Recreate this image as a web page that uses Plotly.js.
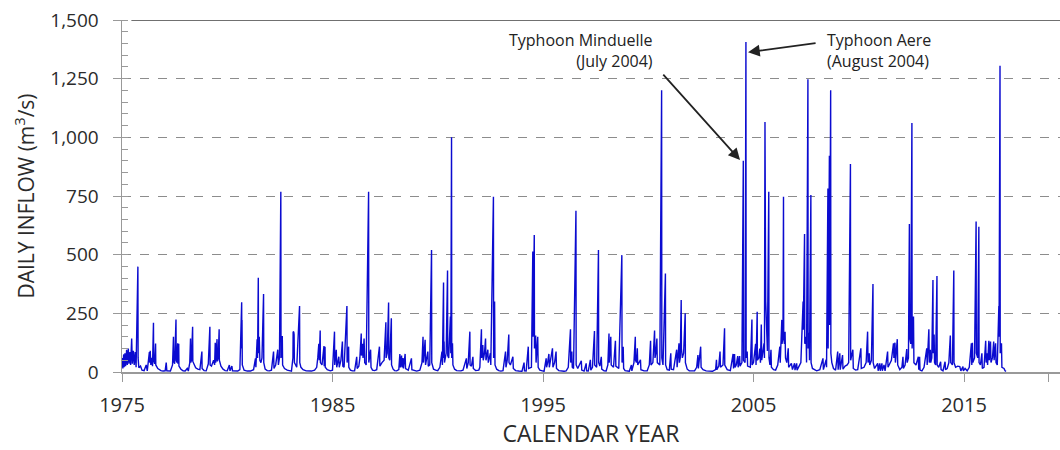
<!DOCTYPE html>
<html>
<head>
<meta charset="utf-8">
<script src="https://cdn.plot.ly/plotly-3.0.1.min.js"></script>
<style>
  html, body { margin: 0; padding: 0; background: #fff; }
  #chart { width: 1060px; height: 450px; }
</style>
</head>
<body>
<div id="chart"></div>
<script>
// Daily inflow: [decimal year, m3/s]
const records1970s = [
  [1975.00, 20],[1975.02, 60],[1975.04, 15],[1975.08, 75],[1975.10, 20],[1975.14, 80],[1975.17, 25],[1975.22, 95],[1975.25, 30],[1975.30, 100],[1975.33, 35],[1975.38, 85],[1975.41, 30],[1975.46, 143],[1975.49, 35],[1975.54, 90],[1975.58, 30],[1975.63, 85],[1975.67, 20],[1975.755, 449],[1975.765, 60],[1975.80, 18],[1975.88, 25],[1975.95, 8],
  [1976.05, 6],[1976.15, 30],[1976.20, 5],[1976.30, 85],[1976.32, 40],[1976.34, 90],[1976.37, 30],[1976.42, 60],[1976.45, 25],[1976.495, 210],[1976.505, 50],[1976.55, 35],[1976.595, 121],[1976.605, 30],[1976.70, 15],[1976.85, 6],[1976.95, 4],
  [1977.05, 5],[1977.10, 40],[1977.13, 5],[1977.30, 4],[1977.40, 30],[1977.445, 150],[1977.455, 45],[1977.50, 35],[1977.565, 224],[1977.575, 50],[1977.61, 40],[1977.645, 122],[1977.655, 35],[1977.695, 120],[1977.705, 25],[1977.80, 12],[1977.90, 5],
  [1978.00, 4],[1978.10, 15],[1978.15, 4],[1978.22, 40],[1978.255, 143],[1978.265, 40],[1978.30, 50],[1978.355, 193],[1978.365, 45],[1978.42, 30],[1978.50, 18],[1978.60, 12],[1978.70, 10],[1978.795, 87],[1978.805, 15],[1978.90, 6],
  [1979.00, 5],[1979.10, 35],[1979.175, 193],[1979.185, 30],[1979.25, 25],[1979.35, 50],[1979.40, 30],[1979.43, 125],[1979.45, 40],[1979.515, 140],[1979.525, 45],[1979.57, 60],[1979.615, 182],[1979.625, 50],[1979.70, 25],[1979.80, 12],[1979.90, 6]
];
const records1980s = [
  [1980.00, 5],[1980.10, 30],[1980.13, 5],[1980.22, 25],[1980.25, 5],[1980.35, 4],[1980.50, 4],[1980.60, 10],[1980.685, 297],[1980.695, 100],[1980.70, 222],[1980.715, 30],[1980.80, 8],[1980.95, 4],
  [1981.10, 4],[1981.25, 10],[1981.34, 58],[1981.36, 20],[1981.42, 139],[1981.44, 60],[1981.475, 402],[1981.485, 80],[1981.52, 150],[1981.55, 50],[1981.60, 40],[1981.65, 60],[1981.725, 332],[1981.735, 40],[1981.80, 12],[1981.90, 6],
  [1982.00, 5],[1982.10, 8],[1982.20, 87],[1982.22, 15],[1982.30, 30],[1982.40, 95],[1982.43, 30],[1982.48, 60],[1982.545, 768],[1982.555, 60],[1982.60, 150],[1982.615, 153],[1982.63, 30],[1982.72, 15],[1982.85, 8],[1982.95, 5],
  [1983.05, 4],[1983.12, 60],[1983.13, 172],[1983.145, 100],[1983.16, 170],[1983.175, 160],[1983.19, 40],[1983.25, 30],[1983.30, 20],[1983.435, 281],[1983.445, 40],[1983.50, 20],[1983.60, 10],[1983.75, 5],[1983.90, 4],
  [1984.00, 4],[1984.15, 8],[1984.25, 20],[1984.30, 60],[1984.35, 120],[1984.37, 50],[1984.415, 177],[1984.425, 40],[1984.50, 30],[1984.595, 111],[1984.605, 25],[1984.645, 108],[1984.655, 20],[1984.75, 10],[1984.90, 5],
  [1985.00, 8],[1985.095, 172],[1985.105, 30],[1985.18, 95],[1985.20, 20],[1985.25, 40],[1985.30, 65],[1985.32, 20],[1985.40, 50],[1985.47, 130],[1985.49, 25],[1985.55, 20],[1985.685, 281],[1985.695, 40],[1985.765, 108],[1985.775, 20],[1985.85, 8],[1985.95, 5],
  [1986.05, 5],[1986.15, 65],[1986.17, 15],[1986.25, 25],[1986.30, 60],[1986.365, 164],[1986.375, 70],[1986.42, 120],[1986.45, 60],[1986.50, 143],[1986.53, 40],[1986.60, 30],[1986.715, 768],[1986.725, 40],[1986.81, 95],[1986.83, 20],[1986.90, 8],
  [1987.00, 6],[1987.10, 10],[1987.23, 108],[1987.25, 25],[1987.35, 40],[1987.45, 50],[1987.535, 212],[1987.545, 60],[1987.60, 80],[1987.665, 296],[1987.675, 60],[1987.72, 50],[1987.795, 229],[1987.805, 30],[1987.88, 12],[1987.95, 6],
  [1988.05, 5],[1988.15, 10],[1988.20, 77],[1988.22, 20],[1988.28, 70],[1988.30, 20],[1988.35, 60],[1988.37, 15],[1988.45, 77],[1988.47, 15],[1988.60, 8],[1988.75, 58],[1988.77, 10],[1988.90, 5],
  [1989.00, 4],[1989.15, 8],[1989.25, 40],[1989.30, 150],[1989.32, 40],[1989.40, 137],[1989.42, 30],[1989.53, 87],[1989.55, 25],[1989.62, 30],[1989.705, 520],[1989.715, 40],[1989.80, 12],[1989.90, 8]
];
const records1990s = [
  [1990.00, 6],[1990.10, 20],[1990.20, 87],[1990.22, 30],[1990.275, 381],[1990.285, 60],[1990.30, 130],[1990.32, 40],[1990.40, 80],[1990.465, 432],[1990.475, 70],[1990.52, 60],[1990.60, 236],[1990.62, 80],[1990.655, 1000],[1990.665, 60],[1990.70, 122],[1990.72, 30],[1990.80, 12],[1990.90, 6],
  [1991.00, 4],[1991.10, 5],[1991.20, 8],[1991.36, 58],[1991.38, 15],[1991.45, 40],[1991.525, 172],[1991.535, 30],[1991.60, 25],[1991.67, 65],[1991.69, 15],[1991.80, 6],[1991.95, 8],
  [1992.00, 20],[1992.075, 182],[1992.085, 60],[1992.14, 115],[1992.16, 50],[1992.22, 80],[1992.27, 143],[1992.29, 50],[1992.38, 95],[1992.40, 40],[1992.45, 60],[1992.50, 80],[1992.52, 30],[1992.645, 747],[1992.655, 60],[1992.70, 300],[1992.72, 30],[1992.80, 12],[1992.90, 6],
  [1993.00, 4],[1993.10, 6],[1993.22, 87],[1993.24, 20],[1993.30, 50],[1993.375, 160],[1993.385, 40],[1993.45, 30],[1993.57, 65],[1993.59, 15],[1993.70, 6],[1993.85, 4],
  [1994.00, 3],[1994.10, 40],[1994.12, 5],[1994.20, 4],[1994.30, 108],[1994.32, 15],[1994.45, 20],[1994.515, 513],[1994.525, 150],[1994.585, 584],[1994.595, 100],[1994.65, 156],[1994.67, 40],[1994.75, 150],[1994.77, 20],[1994.85, 8],[1994.95, 4],
  [1995.05, 3],[1995.15, 58],[1995.17, 20],[1995.22, 40],[1995.28, 77],[1995.30, 20],[1995.38, 60],[1995.45, 101],[1995.47, 20],[1995.55, 40],[1995.62, 87],[1995.64, 15],[1995.75, 6],[1995.90, 4],
  [1996.00, 3],[1996.10, 5],[1996.20, 20],[1996.305, 182],[1996.315, 40],[1996.37, 87],[1996.39, 20],[1996.45, 15],[1996.565, 687],[1996.575, 30],[1996.65, 15],[1996.82, 48],[1996.84, 8],[1996.95, 4],
  [1997.05, 37],[1997.07, 5],[1997.15, 4],[1997.25, 52],[1997.27, 8],[1997.35, 20],[1997.445, 175],[1997.455, 30],[1997.55, 20],[1997.635, 520],[1997.645, 40],[1997.70, 25],[1997.77, 65],[1997.79, 12],[1997.90, 5],
  [1998.00, 4],[1998.08, 30],[1998.135, 164],[1998.145, 40],[1998.22, 150],[1998.24, 30],[1998.35, 20],[1998.44, 133],[1998.46, 25],[1998.60, 15],[1998.745, 498],[1998.755, 40],[1998.81, 108],[1998.83, 15],[1998.90, 6],
  [1999.00, 3],[1999.10, 3],[1999.20, 30],[1999.22, 5],[1999.32, 40],[1999.385, 150],[1999.395, 50],[1999.44, 40],[1999.48, 101],[1999.50, 30],[1999.63, 52],[1999.65, 10],[1999.80, 5],[1999.95, 5]
];
const records2000s = [
  [2000.05, 30],[2000.11, 133],[2000.13, 30],[2000.22, 40],[2000.30, 177],[2000.32, 60],[2000.36, 80],[2000.41, 143],[2000.43, 40],[2000.55, 30],[2000.635, 1201],[2000.645, 60],[2000.70, 30],[2000.815, 420],[2000.825, 30],[2000.90, 10],
  [2001.00, 8],[2001.07, 80],[2001.09, 12],[2001.20, 10],[2001.35, 95],[2001.37, 20],[2001.46, 122],[2001.48, 40],[2001.52, 60],[2001.565, 307],[2001.575, 100],[2001.62, 60],[2001.68, 80],[2001.755, 250],[2001.765, 40],[2001.85, 12],[2001.95, 5],
  [2002.05, 4],[2002.20, 5],[2002.30, 20],[2002.36, 72],[2002.38, 15],[2002.49, 108],[2002.51, 20],[2002.60, 10],[2002.75, 5],[2002.90, 3],
  [2003.05, 3],[2003.20, 10],[2003.24, 52],[2003.26, 10],[2003.35, 25],[2003.41, 87],[2003.43, 20],[2003.55, 30],[2003.625, 186],[2003.635, 30],[2003.75, 10],[2003.90, 6],
  [2004.03, 77],[2004.05, 15],[2004.10, 77],[2004.12, 20],[2004.18, 30],[2004.25, 68],[2004.27, 20],[2004.34, 68],[2004.36, 25],[2004.45, 40],[2004.515, 900],[2004.525, 50],[2004.60, 40],[2004.64, 1406],[2004.65, 60],[2004.70, 87],[2004.72, 25],[2004.85, 20],[2004.925, 224],[2004.935, 30],
  [2005.00, 40],[2005.10, 120],[2005.12, 30],[2005.175, 257],[2005.185, 50],[2005.25, 60],[2005.30, 100],[2005.33, 40],[2005.37, 202],[2005.39, 50],[2005.45, 80],[2005.50, 122],[2005.52, 60],[2005.545, 1065],[2005.555, 200],[2005.565, 612],[2005.58, 300],[2005.62, 150],[2005.66, 90],[2005.725, 768],[2005.735, 60],[2005.78, 30],[2005.83, 95],[2005.85, 20],[2005.95, 10],
  [2006.05, 8],[2006.15, 30],[2006.25, 108],[2006.27, 40],[2006.345, 222],[2006.355, 120],[2006.40, 150],[2006.425, 747],[2006.435, 150],[2006.47, 120],[2006.50, 172],[2006.52, 60],[2006.58, 40],[2006.65, 101],[2006.67, 20],[2006.75, 30],[2006.80, 37],[2006.85, 10],[2006.95, 37],[2006.97, 8],
  [2007.05, 37],[2007.07, 8],[2007.15, 20],[2007.25, 40],[2007.355, 300],[2007.365, 180],[2007.425, 588],[2007.435, 120],[2007.50, 150],[2007.52, 40],[2007.585, 1248],[2007.595, 100],[2007.64, 167],[2007.66, 50],[2007.725, 754],[2007.735, 40],[2007.80, 15],[2007.90, 8],
  [2008.00, 5],[2008.15, 10],[2008.30, 58],[2008.32, 10],[2008.45, 52],[2008.47, 20],[2008.535, 782],[2008.545, 100],[2008.605, 921],[2008.615, 200],[2008.665, 1201],[2008.675, 80],[2008.72, 40],[2008.80, 15],[2008.90, 8],
  [2009.00, 87],[2009.02, 10],[2009.10, 80],[2009.12, 10],[2009.23, 72],[2009.25, 12],[2009.35, 25],[2009.45, 30],[2009.52, 40],[2009.605, 886],[2009.615, 50],[2009.72, 95],[2009.74, 15],[2009.85, 8],[2009.95, 10]
];
const records2010s = [
  [2010.10, 101],[2010.12, 15],[2010.25, 20],[2010.35, 40],[2010.42, 172],[2010.44, 40],[2010.50, 80],[2010.52, 30],[2010.60, 50],[2010.675, 375],[2010.685, 40],[2010.75, 15],[2010.90, 37],[2010.92, 5],
  [2011.00, 37],[2011.02, 5],[2011.10, 37],[2011.12, 5],[2011.20, 30],[2011.25, 5],[2011.37, 87],[2011.39, 20],[2011.50, 40],[2011.55, 50],[2011.65, 122],[2011.67, 60],[2011.72, 125],[2011.74, 40],[2011.83, 140],[2011.85, 30],[2011.95, 10],
  [2012.05, 20],[2012.10, 65],[2012.12, 15],[2012.20, 30],[2012.28, 98],[2012.30, 40],[2012.36, 60],[2012.405, 631],[2012.415, 150],[2012.47, 120],[2012.525, 1061],[2012.535, 100],[2012.60, 236],[2012.62, 40],[2012.72, 30],[2012.83, 65],[2012.85, 10],[2012.89, 65],[2012.91, 8],
  [2013.00, 5],[2013.10, 20],[2013.23, 101],[2013.25, 30],[2013.33, 182],[2013.35, 40],[2013.40, 95],[2013.42, 40],[2013.47, 60],[2013.525, 392],[2013.535, 80],[2013.58, 160],[2013.60, 40],[2013.65, 30],[2013.715, 409],[2013.725, 30],[2013.80, 20],[2013.89, 44],[2013.91, 10],
  [2014.00, 5],[2014.10, 44],[2014.12, 10],[2014.20, 15],[2014.28, 40],[2014.35, 155],[2014.37, 40],[2014.45, 30],[2014.515, 432],[2014.525, 40],[2014.60, 20],[2014.70, 25],[2014.80, 23],[2014.85, 5],[2014.95, 23],[2014.97, 5],
  [2015.05, 15],[2015.15, 5],[2015.25, 20],[2015.35, 122],[2015.37, 30],[2015.40, 125],[2015.42, 40],[2015.50, 60],[2015.575, 641],[2015.585, 80],[2015.65, 60],[2015.705, 619],[2015.715, 40],[2015.78, 30],[2015.85, 80],[2015.87, 15],[2015.95, 20],
  [2016.03, 133],[2016.05, 40],[2016.10, 80],[2016.12, 30],[2016.18, 133],[2016.20, 50],[2016.26, 130],[2016.28, 40],[2016.35, 60],[2016.41, 130],[2016.43, 50],[2016.50, 122],[2016.52, 40],[2016.58, 30],[2016.655, 281],[2016.665, 150],[2016.71, 1305],[2016.72, 80],[2016.78, 122],[2016.80, 20],[2016.90, 15],[2016.95, 5],[2017.00, 3]
];

const xTickValues = [1975, 1985, 1995, 2005, 2015, 2019];
const xTickLabels = ['1975', '1985', '1995', '2005', '2015', ''];

const allRecords = [].concat(records1970s, records1980s, records1990s, records2000s, records2010s);
const dates = allRecords.map(r => r[0]);
const inflow = allRecords.map(r => r[1]);

const FONT = '"Open Sans", "DejaVu Sans", sans-serif';

const trace = {
  type: 'scatter',
  mode: 'lines',
  x: dates,
  y: inflow,
  line: { color: '#0b0bd0', width: 1.4 },
  hoverinfo: 'skip'
};

const layout = {
  width: 1060,
  height: 450,
  margin: { l: 122, r: 0, t: 20, b: 78 },
  paper_bgcolor: '#ffffff',
  plot_bgcolor: '#ffffff',
  showlegend: false,
  font: { family: FONT, color: '#333333' },
  xaxis: {
    range: [1975, 2019.56],
    tickvals: xTickValues,
    ticktext: xTickLabels,
    ticks: 'outside',
    ticklen: 8,
    tickcolor: '#999999',
    tickwidth: 1,
    showline: true,
    linecolor: '#999999',
    linewidth: 1.5,
    showgrid: false,
    zeroline: false,
    tickfont: { size: 20, color: '#2b2b2b', family: FONT },
    ticklabelstandoff: 6,
    title: { text: 'CALENDAR YEAR', font: { size: 23, color: '#2b2b2b', family: FONT }, standoff: 6 }
  },
  yaxis: {
    range: [0, 1500],
    dtick: 250,
    tick0: 0,
    tickformat: ',d',
    ticks: 'outside',
    ticklen: 8,
    tickcolor: '#999999',
    showline: true,
    linecolor: '#999999',
    linewidth: 1.5,
    showgrid: true,
    gridcolor: '#8c8c8c',
    griddash: 'dash',
    gridwidth: 1,
    zeroline: false,
    minor: { dtick: 50, ticks: 'inside', ticklen: 6, tickcolor: '#999999', showgrid: false },
    tickfont: { size: 19, color: '#2b2b2b', family: FONT },
    ticklabelstandoff: 10,
    title: { text: 'DAILY INFLOW (m<sup>3</sup>/s)', font: { size: 21, color: '#2b2b2b', family: FONT }, standoff: 10 }
  },
  shapes: [
    { type: 'line', xref: 'paper', yref: 'y', x0: 0.01, x1: 1, y0: 1500, y1: 1500,
      line: { color: '#404040', width: 1.5 }, layer: 'above' }
  ],
  annotations: [
    { text: 'Typhoon Minduelle<br>(July 2004)', x: 2000.32, y: 1370, xref: 'x', yref: 'y',
      xanchor: 'right', yanchor: 'middle', align: 'right', showarrow: false,
      font: { size: 16, color: '#222222', family: FONT } },
    { text: 'Typhoon Aere<br>(August 2004)', x: 2008.4, y: 1370, xref: 'x', yref: 'y',
      xanchor: 'left', yanchor: 'middle', align: 'left', showarrow: false,
      font: { size: 16, color: '#222222', family: FONT } },
    { text: '', x: 2004.36, y: 903, xref: 'x', yref: 'y', ax: 2000.65, ay: 1274, axref: 'x', ayref: 'y',
      showarrow: true, arrowhead: 2, arrowsize: 1.3, arrowwidth: 1.8, arrowcolor: '#222222', standoff: 0 },
    { text: '', x: 2004.74, y: 1363, xref: 'x', yref: 'y', ax: 2008.02, ay: 1402, axref: 'x', ayref: 'y',
      showarrow: true, arrowhead: 2, arrowsize: 1.3, arrowwidth: 1.8, arrowcolor: '#222222', standoff: 0 }
  ]
};

Plotly.newPlot('chart', [trace], layout, { staticPlot: true, displayModeBar: false });
</script>
</body>
</html>
